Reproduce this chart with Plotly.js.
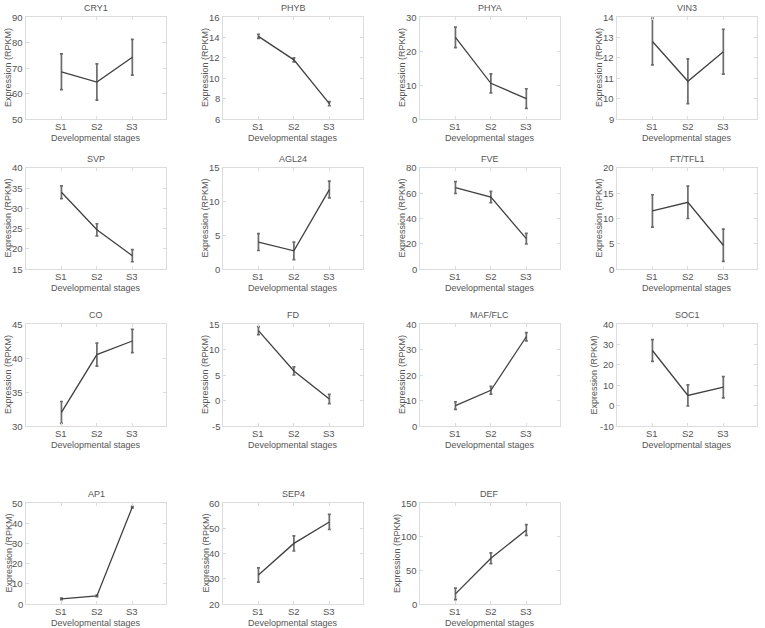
<!DOCTYPE html>
<html>
<head>
<meta charset="utf-8">
<script src="https://cdn.plot.ly/plotly-3.0.1.min.js"></script>
<style>html,body{margin:0;padding:0;background:#fff;}#chart{width:765px;height:628px;}</style>
</head>
<body>
<div id="chart"></div>
<script>
const stages = ["S1", "S2", "S3"];
const genes = ["CRY1","PHYB","PHYA","VIN3","SVP","AGL24","FVE","FT/TFL1","CO","FD","MAF/FLC","SOC1","AP1","SEP4","DEF"];
const means = [
  [68.5, 64.5, 74.2],
  [14.1, 11.8, 7.5],
  [24.0, 10.5, 6.0],
  [12.8, 10.85, 12.3],
  [34.0, 24.7, 18.3],
  [4.0, 2.7, 11.8],
  [64.5, 57.0, 24.0],
  [11.5, 13.2, 4.7],
  [32.0, 40.5, 42.5],
  [13.7, 5.8, 0.3],
  [8.0, 14.0, 35.0],
  [27.0, 5.0, 9.0],
  [2.5, 4.0, 48.0],
  [31.5, 44.0, 52.5],
  [15.0, 68.0, 110.0]
];
const errs = [
  [7.0, 7.1, 7.0],
  [0.2, 0.2, 0.2],
  [3.0, 2.8, 2.9],
  [1.15, 1.1, 1.1],
  [1.6, 1.5, 1.5],
  [1.25, 1.3, 1.25],
  [4.7, 4.5, 4.2],
  [3.2, 3.2, 3.2],
  [1.6, 1.7, 1.7],
  [0.8, 0.8, 0.9],
  [1.5, 1.5, 1.6],
  [5.3, 5.2, 5.2],
  [0.4, 0.4, 0.4],
  [2.8, 3.0, 3.0],
  [8.5, 8.0, 8.0]
];
const yRanges = [
  [50, 90], [6, 16], [0, 30], [9, 14],
  [15, 40], [0, 15], [0, 80], [0, 20],
  [30, 45], [-5, 15], [0, 40], [-10, 40],
  [0, 50], [20, 60], [0, 150]
];
const yDtick = [10, 2, 10, 1, 5, 5, 20, 5, 5, 5, 10, 10, 10, 10, 50];
const xTitle = "Developmental stages";
const yTitle = "Expression (RPKM)";

const W = 765, H = 628;
const colLeft = [26, 223, 420, 617];
const colWidth = 140;
const rowTop = [17, 168, 324, 503];
const rowBottom = [119, 269, 426, 604];
const textColor = "#555555";
const tickSize = 9.5, titleSize = 9;

const traces = [];
const layout = {
  width: W, height: H,
  margin: {l: 0, r: 0, t: 0, b: 0},
  paper_bgcolor: "#fff",
  plot_bgcolor: "#fff",
  showlegend: false,
  font: {family: "Liberation Sans, Arial, sans-serif", color: textColor},
  annotations: []
};

genes.forEach((g, i) => {
  const r = Math.floor(i / 4), c = i % 4;
  const n = i + 1;
  const xa = n === 1 ? "x" : "x" + n;
  const ya = n === 1 ? "y" : "y" + n;
  traces.push({
    type: "scatter", mode: "lines",
    x: [1, 2, 3], y: means[i],
    xaxis: xa, yaxis: ya,
    line: {color: "#404040", width: 1.3},
    error_y: {type: "data", array: errs[i], visible: true, color: "#6c6c6c", thickness: 1.7, width: 1.5},
    hoverinfo: "skip"
  });
  const x0 = colLeft[c] / W, x1 = (colLeft[c] + colWidth) / W;
  const y0 = 1 - rowBottom[r] / H, y1 = 1 - rowTop[r] / H;
  const axStyle = {
    showline: true, linecolor: "#dcdcdc", linewidth: 1, mirror: "ticks",
    ticks: "inside", ticklen: 3, tickcolor: "#dcdcdc",
    showgrid: false, zeroline: false, showticklabels: false
  };
  const yTicks = [];
  for (let v = yRanges[i][0]; v <= yRanges[i][1] + 1e-9; v += yDtick[i]) yTicks.push(v);
  const maxChars = Math.max(...yTicks.map(v => String(v).length));
  layout["xaxis" + (n === 1 ? "" : n)] = Object.assign({}, axStyle, {
    domain: [x0, x1], anchor: ya, range: [0, 3.95],
    tickmode: "array", tickvals: [1, 2, 3], ticktext: stages
  });
  layout["yaxis" + (n === 1 ? "" : n)] = Object.assign({}, axStyle, {
    domain: [y0, y1], anchor: xa, range: yRanges[i],
    tickmode: "array", tickvals: yTicks
  });
  stages.forEach((s, k) => {
    layout.annotations.push({
      text: s, xref: xa, yref: "paper",
      x: k + 1, y: 1 - (rowBottom[r] + 1) / H,
      xanchor: "center", yanchor: "top", showarrow: false, borderpad: 0,
      font: {size: tickSize, color: textColor}
    });
  });
  yTicks.forEach(v => {
    layout.annotations.push({
      text: String(v), xref: "paper", yref: ya,
      x: (colLeft[c] - 2) / W, y: v,
      xanchor: "right", yanchor: "middle", showarrow: false, borderpad: 0,
      font: {size: tickSize, color: textColor}
    });
  });
  layout.annotations.push({
    text: g, xref: "paper", yref: "paper",
    x: (colLeft[c] + colWidth / 2) / W, y: 1 - (rowTop[r] - 3) / H,
    xanchor: "center", yanchor: "bottom", showarrow: false, borderpad: 0,
    font: {size: titleSize, color: textColor}
  });
  layout.annotations.push({
    text: xTitle, xref: "paper", yref: "paper",
    x: (colLeft[c] + colWidth / 2) / W, y: 1 - (rowBottom[r] + 12.5) / H,
    xanchor: "center", yanchor: "top", showarrow: false, borderpad: 0,
    font: {size: titleSize, color: textColor}
  });
  layout.annotations.push({
    text: yTitle, xref: "paper", yref: "paper", textangle: -90,
    x: (colLeft[c] - (7 + 5.5 * maxChars)) / W, y: 1 - ((rowTop[r] + rowBottom[r]) / 2) / H,
    xanchor: "center", yanchor: "middle", showarrow: false, borderpad: 0,
    font: {size: titleSize, color: textColor}
  });
});

Plotly.newPlot("chart", traces, layout, {staticPlot: true, displayModeBar: false});
</script>
</body>
</html>
